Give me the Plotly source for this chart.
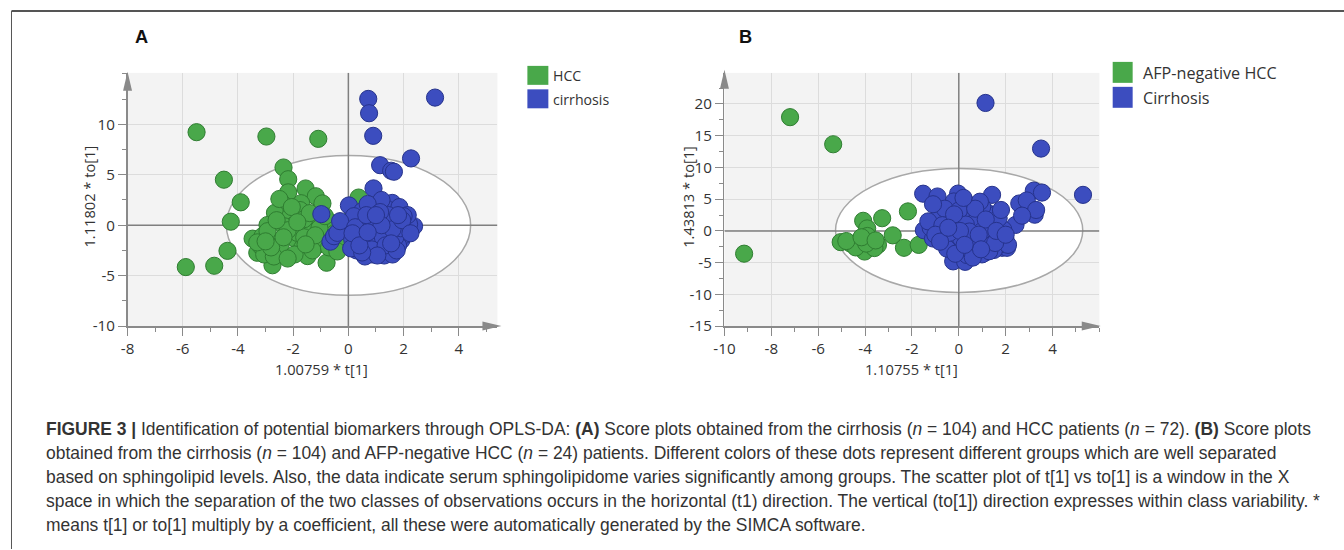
import plotly.graph_objects as go

# The photographed page is resampled into 1344x550 (measured: x' = 10 + 0.993 x,
# y' = 0.9857 y on a 1344x558 canvas); place everything through X()/Y().
W, H = 1344, 558
SX, OX = 0.993, 10.0
SY = 550 / 558
def X(xr): return (xr - OX) / SX
def Y(yr): return yr / SY
def px(xr): return X(xr) / W
def py(yr): return 1 - Y(yr) / H
def fs(v): return v / ((SX + SY) / 2)

# ---------------- data ----------------
# Panel A : HCC (green) vs cirrhosis (blue)
hcc_a_x = [-5.50, -2.97, -1.09, -4.51, -2.35, -2.18, -2.18, -1.55, -1.18, -3.90,
           -2.39, -1.71, -0.94, 0.37, -4.26, -2.66, -2.09, -2.93, -2.00, -1.30,
           -0.64, -4.38, -5.89, -4.86, -3.47, -3.11, -2.81, -1.92, -1.38, -1.00,
           -3.30, -2.57, -1.67, -1.18, -1.48, -0.79, -2.75, -0.04, -2.33, -1.85,
           -2.93, -1.00, -3.20, -2.45, -1.60, -2.20, -1.75, -2.60, -3.05, -1.30,
           -0.50, -0.30, -2.50, -1.95, -3.30, -2.70, -1.05, -0.70, -2.05, -1.60,
           -1.40, -2.80, -1.20, -0.20, 0.10, -0.40, -2.35, -1.85, -3.00, -1.55,
           -0.85, -2.20]
hcc_a_y = [9.22, 8.79, 8.56, 4.51, 5.72, 4.56, 3.26, 3.64, 2.87, 2.27,
           2.16, 2.18, 2.16, 2.74, 0.35, 1.22, 0.97, 0.02, -0.03, 0.07,
           0.23, -2.54, -4.15, -4.02, -1.33, -1.08, -1.58, -1.35, -0.76, -1.58,
           -2.73, -2.65, -2.24, -2.08, -3.06, -3.72, -3.97, -1.83, -0.10, -0.76,
           -0.59, 0.56, -2.00, -1.90, -1.20, -0.50, 1.50, 0.50, -2.90, -2.50,
           -0.80, -1.20, 2.60, -2.90, -1.70, -3.10, -0.30, -2.20, 1.80, 0.60,
           1.20, -2.20, -1.00, -0.50, 0.60, -2.60, -1.20, 0.30, -1.60, -1.90,
           0.90, -3.30]
cir_a_x = [0.72, 3.14, 0.75, 0.90, 2.27, 1.15, 1.55, 1.65, 0.91, 0.02,
           -0.98, -0.65, -0.16, 0.45, 0.93, 1.23, 1.59, 1.92, 2.10, 2.14,
           1.92, 1.47, 1.47, 1.44, 1.05, 0.87, 0.51, 0.21, 0.75, 1.17,
           0.93, 1.77, 0.02, 2.38, -0.52, 1.53, 1.29, 0.63, 1.17, 0.27,
           1.05, 1.77, -0.40, 0.14, 0.57, 0.81, 1.41,
           0.30, 0.60, 1.00, 1.30, 1.60, 1.90, 2.00, 0.40, 0.80, 1.40,
           1.70, 1.10, 0.50, 2.20, 1.80, 0.20, -0.30, 0.90, 1.30, 0.60,
           1.60, 2.05, 1.20, 0.70, 1.00, 1.50, 0.35, 1.85, 0.10, 2.15,
           1.25, 0.55, 1.70, 0.95, 1.45, 0.75, 1.90, 0.45, 1.15, 1.60,
           2.00, 0.85, 1.35, 0.25, 1.05, 1.75, 0.65, 1.95, 0.50, 1.20,
           1.55, 2.25, 0.15, 1.00, 1.80, 0.40, 0.70]
cir_a_y = [12.52, 12.65, 11.10, 8.86, 6.62, 5.95, 5.40, 5.30, 3.65, 1.96,
           1.10, -1.63, -0.35, 0.89, 1.38, 1.96, 2.21, 1.22, 0.56, -0.43,
           -1.50, -0.10, -1.09, -2.38, -2.08, -2.90, -2.08, -1.09, -0.43, 0.23,
           -0.76, -0.76, -0.43, -0.10, -1.09, 1.22, 0.89, -1.25, -2.73, 0.07,
           -0.10, -0.10, -0.76, -1.42, -2.08, -1.09, -0.10,
           -2.50, 0.30, 0.60, -0.50, -1.60, 0.20, -1.00, -0.50, 1.80, 1.60,
           0.60, -1.50, 1.40, 0.10, -2.00, 0.90, 0.40, -1.90, -3.00, -3.10,
           -2.90, -0.60, 2.50, 2.10, -0.30, 0.30, -1.60, 1.80, -2.30, 1.00,
           -1.20, 0.00, -1.20, 0.20, 1.00, 0.60, -0.30, -1.00, 1.30, -0.40,
           0.90, -2.40, -2.00, -0.20, -3.00, -2.50, 1.00, 0.50, -2.70, 0.00,
           -1.80, -0.80, -0.80, 1.00, 1.00, -2.00, -0.70]

# Panel B : AFP-negative HCC (green) vs Cirrhosis (blue)
hcc_b_x = [-7.20, -5.36, -9.16, -2.17, -3.27, -4.08, -3.91, -2.82, -5.04, -4.62,
           -4.22, -3.45, -4.02, -2.34, -1.71, -3.75, -3.90, -0.32, -4.40, -3.60,
           -4.80, -3.95, -4.15, -3.55]
hcc_b_y = [17.92, 13.65, -3.59, 3.07, 2.00, 1.59, 0.39, -0.70, -1.77, -1.98,
           -2.20, -2.20, -3.25, -2.66, -2.20, -1.90, -0.80, -3.05, -2.60, -2.70,
           -1.60, -2.00, -1.00, -1.50]
cir_b_x = [1.14, 3.51, 5.30, -1.52, -0.91, -0.03, -0.21, 1.42, 3.20, 3.55,
           2.58, 3.00, 3.24, 2.42, 0.57, 0.14, 1.21, 1.56, -0.84, -1.49,
           -1.10, -0.78, -0.25, 0.40, 0.78, 1.07, 1.21, 1.63, 1.85, 2.06,
           1.11, 0.64, 0.16, -0.24, 0.27, 0.64, 0.07, 1.78, 1.14, 0.07,
           0.50, 0.92, 1.78, 0.99, 1.42,
           -1.20, -0.90, -0.50, -0.30, 0.20, 0.50, 0.90, 1.30, 1.60, 1.90,
           0.30, 0.80, 1.00, 0.40, -0.60, -1.30, -0.10, 0.60, 1.50, 0.00,
           1.20, 2.00, 0.35, -0.50, 0.75, 1.45, 1.90, -0.70, 0.10, 0.55,
           1.00, 1.30, 0.30, -0.20, 0.90, 1.70, 2.10, -1.00, 0.45, 0.70,
           -0.40, 1.15, 0.05, 0.85, 1.55, -0.15, 0.60, 2.90, 3.30, 2.70,
           -1.10, 0.20, 1.80, -0.80, 0.95, 1.60, 0.25, 2.00, -0.45]
cir_b_y = [20.16, 12.97, 5.68, 5.86, 5.42, 5.88, 4.64, 5.68, 6.35, 6.04,
           4.32, 3.59, 2.55, 0.94, 3.15, 2.42, 2.90, 2.55, 2.29, 0.10,
           -1.20, -0.83, 0.21, -0.45, -1.00, -0.31, 0.73, -0.83, -2.66, -2.66,
           -3.44, -3.30, -3.00, -4.80, -4.87, -1.77, 1.25, -2.14, -1.35, -2.14,
           1.25, 0.99, -0.57, -3.70, -1.09,
           0.50, -0.20, 1.20, -1.50, 0.60, -2.50, -2.20, 0.20, 1.40, -1.30,
           2.00, 2.20, 3.80, 4.20, 3.50, 1.50, -0.60, 0.20, -3.00, 3.20,
           -2.00, -1.50, -3.80, -2.80, 1.60, 0.90, 0.20, 0.90, -1.20, -1.20,
           0.00, -3.20, 1.00, 2.60, 4.60, 2.00, -2.20, -0.60, -0.10, 3.50,
           -0.30, 1.80, 0.00, -0.60, -1.90, -3.60, -4.20, 4.80, 3.30, 2.40,
           4.20, 5.20, 3.30, -1.70, -2.90, 0.00, -2.20, -0.60, 0.50]

# Hotelling T2 ellipse extents (t, to)
ellipse_a = dict(x0=-4.42, x1=4.43, y0=-6.95, y1=6.92)
ellipse_b = dict(x0=-5.26, x1=5.29, y0=-9.69, y1=9.84)

range_a_x, range_a_y = [-8, 5.4], [-10, 15.1]
range_b_x, range_b_y = [-10, 6.0], [-15, 24.9]
ticks_a_x = [-8, -6, -4, -2, 0, 2, 4]
ticks_a_y = [-10, -5, 0, 5, 10]
ticks_b_x = [-10, -8, -6, -4, -2, 0, 2, 4]
ticks_b_y = [-15, -10, -5, 0, 5, 10, 15, 20]

legend_a = ["HCC", "cirrhosis"]
legend_b = ["AFP-negative HCC", "Cirrhosis"]

caption_lines = [
    "<b>FIGURE 3 |</b> Identification of potential biomarkers through OPLS-DA: <b>(A)</b> Score plots obtained from the cirrhosis (<i>n</i> = 104) and HCC patients (<i>n</i> = 72). <b>(B)</b> Score plots",
    "obtained from the cirrhosis (<i>n</i> = 104) and AFP-negative HCC (<i>n</i> = 24) patients. Different colors of these dots represent different groups which are well separated",
    "based on sphingolipid levels. Also, the data indicate serum sphingolipidome varies significantly among groups. The scatter plot of t[1] vs to[1] is a window in the X",
    "space in which the separation of the two classes of observations occurs in the horizontal (t1) direction. The vertical (to[1]) direction expresses within class variability. *",
    "means t[1] or to[1] multiply by a coefficient, all these were automatically generated by the SIMCA software.",
]

# ---------------- style ----------------
GREEN, GREEN_LINE = "#49a84a", "#2f7d31"
BLUE, BLUE_LINE = "#3c4dbf", "#26338c"
AXIS = "#8a8a8a"
GRID = "#dcdcdc"
BG = "#f3f3f3"
TFONT = "Open Sans, Noto Sans, sans-serif"

fig = go.Figure()

def add_scatter(xs, ys, col, lcol, xa, ya):
    fig.add_trace(go.Scatter(x=xs, y=ys, mode="markers", xaxis=xa, yaxis=ya,
                             showlegend=False, hoverinfo="skip",
                             marker=dict(size=fs(17), color=col, line=dict(color=lcol, width=1))))

add_scatter(hcc_a_x, hcc_a_y, GREEN, GREEN_LINE, "x", "y")
add_scatter(cir_a_x, cir_a_y, BLUE, BLUE_LINE, "x", "y")
add_scatter(hcc_b_x, hcc_b_y, GREEN, GREEN_LINE, "x2", "y2")
add_scatter(cir_b_x, cir_b_y, BLUE, BLUE_LINE, "x2", "y2")

def axis(domain, rng, tickvals, minor_dt, anchor):
    return dict(domain=domain, range=rng, tickvals=tickvals,
                ticktext=[str(v) for v in tickvals], anchor=anchor,
                showgrid=True, gridcolor=GRID, gridwidth=1, zeroline=False,
                showline=True, linecolor=AXIS, linewidth=1.5,
                ticks="outside", ticklen=fs(8), tickcolor=AXIS, tickwidth=1,
                minor=dict(dtick=minor_dt, tick0=0, ticks="outside", ticklen=fs(4),
                           tickcolor=AXIS, showgrid=False),
                tickfont=dict(family=TFONT, size=fs(15), color="#333333"),
                fixedrange=True)

ydom = [py(326.7), py(73)]
fig.update_layout(
    width=W, height=H, autosize=False,
    margin=dict(l=0, r=0, t=0, b=0),
    paper_bgcolor="white", plot_bgcolor=BG,
    xaxis=axis([px(126.7), px(497)], range_a_x, ticks_a_x, 1, "y"),
    yaxis=axis(ydom, range_a_y, ticks_a_y, 2.5, "x"),
    xaxis2=axis([px(724.3), px(1099.7)], range_b_x, ticks_b_x, 1, "y2"),
    yaxis2=axis(ydom, range_b_y, ticks_b_y, 2.5, "x2"),
)

shapes = []
for xr, yr, ell, rx, ry in [("x", "y", ellipse_a, range_a_x, range_a_y),
                            ("x2", "y2", ellipse_b, range_b_x, range_b_y)]:
    shapes.append(dict(type="circle", xref=xr, yref=yr, **ell, fillcolor="white",
                       line=dict(color="#a8a8a8", width=1.5), layer="between"))
    shapes.append(dict(type="line", xref=xr, yref=yr, x0=rx[0], x1=rx[1], y0=0, y1=0,
                       line=dict(color="#7f7f7f", width=1.5), layer="between"))
    shapes.append(dict(type="line", xref=xr, yref=yr, x0=0, x1=0, y0=ry[0], y1=ry[1],
                       line=dict(color="#7f7f7f", width=1.5), layer="between"))

def tri(points):
    p = " L ".join(f"{px(a):.5f},{py(b):.5f}" for a, b in points)
    return "M " + p + " Z"

# axis arrows
for (ax, ay_top, ax_right, ay_bottom) in [(126.7, 72, 501, 326.7), (724.3, 70, 1101, 326.7)]:
    shapes.append(dict(type="path", xref="paper", yref="paper",
                       path=tri([(ax - 4.5, ay_top + 19), (ax, ay_top), (ax + 4.5, ay_top + 19)]),
                       fillcolor=AXIS, line=dict(width=0)))
    shapes.append(dict(type="path", xref="paper", yref="paper",
                       path=tri([(ax_right - 19, ay_bottom - 4.5), (ax_right, ay_bottom), (ax_right - 19, ay_bottom + 4.5)]),
                       fillcolor=AXIS, line=dict(width=0)))

# legend swatches
for (x0, x1, ys, cols) in [(527, 548, [(66, 85), (89.5, 108.5)], [GREEN, BLUE]),
                           (1113, 1133, [(62, 83), (87, 108)], [GREEN, BLUE])]:
    for (y0, y1), c in zip(ys, cols):
        shapes.append(dict(type="rect", xref="paper", yref="paper",
                           x0=px(x0), x1=px(x1), y0=py(y1), y1=py(y0),
                           fillcolor=c, line=dict(width=0)))

# frame (top rule and left rule)
shapes.append(dict(type="line", xref="paper", yref="paper", x0=0.5 / W, x1=1, y0=py(11), y1=py(11),
                   line=dict(color="#555555", width=2)))
shapes.append(dict(type="line", xref="paper", yref="paper", x0=0.5 / W, x1=0.5 / W, y0=py(11), y1=0,
                   line=dict(color="#555555", width=1)))

fig.update_layout(shapes=shapes)

ann = []
def text(x, y, t, size, family=TFONT, anchor="left", color="#333333", angle=0):
    ann.append(dict(xref="paper", yref="paper", x=px(x), y=py(y), text=t, showarrow=False,
                    xanchor=anchor, yanchor="middle", textangle=angle,
                    font=dict(family=family, size=size, color=color)))

text(141, 37, "<b>A</b>", fs(18), family="Liberation Sans, Arial", anchor="center", color="#111111")
text(745, 37, "<b>B</b>", fs(18), family="Liberation Sans, Arial", anchor="center", color="#111111")

text(551, 76, legend_a[0], fs(14))
text(551, 100, legend_a[1], fs(14))
text(1141, 73, legend_b[0], fs(16))
text(1141, 98, legend_b[1], fs(16))

text(321, 370, "1.00759 * t[1]", fs(14.5), anchor="center")
text(912, 370, "1.10755 * t[1]", fs(14.5), anchor="center")
text(88, 197, "1.11802 * to[1]", fs(14.5), anchor="center", angle=-90)
text(687, 197, "1.43813 * to[1]", fs(14.5), anchor="center", angle=-90)

for i, line in enumerate(caption_lines):
    text(43, 429.5 + 24.2 * i, line, 17.45, family="Liberation Sans, Arial", color="#333333")

fig.update_layout(annotations=ann)

page_fix = (
    "var s='margin:0;padding:0;overflow:hidden;';"
    "document.documentElement.style.cssText=s;"
    "document.body.style.cssText=s;"
)
fig.write_html("out.html", config={"displayModeBar": False, "staticPlot": True},
               post_script=page_fix)
